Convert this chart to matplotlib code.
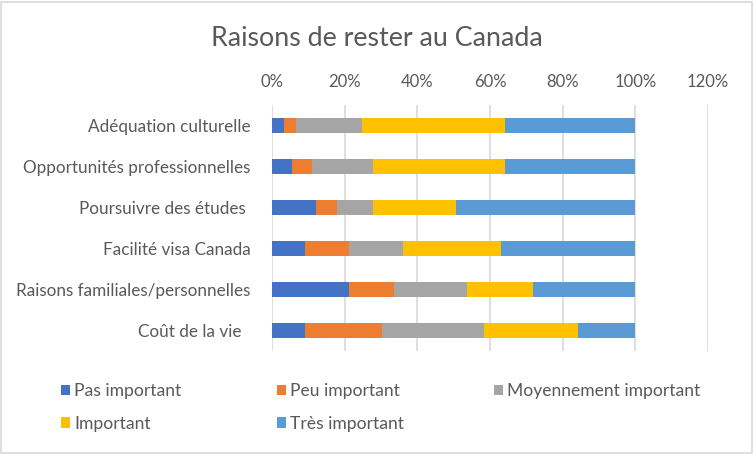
import matplotlib
matplotlib.use("Agg")
import matplotlib.pyplot as plt
from matplotlib.patches import Rectangle, Patch
import numpy as np

plt.rcParams['font.family'] = ['Lato', 'DejaVu Sans']

categories = ["Adéquation culturelle", "Opportunités professionnelles", "Poursuivre des études ",
              "Facilité visa Canada", "Raisons familiales/personnelles", "Coût de la vie  "]
series_names = ["Pas important", "Peu important", "Moyennement important", "Important", "Très important"]
pas_important = [3.2, 5.4, 12.0, 9.0, 21.3, 9.0]
peu_important = [3.5, 5.5, 5.8, 12.3, 12.3, 21.2]
moyennement_important = [18.0, 17.0, 10.1, 14.7, 20.1, 28.1]
important = [39.4, 36.2, 22.7, 27.0, 18.2, 25.9]
tres_important = [35.9, 35.9, 49.4, 37.0, 28.1, 15.8]
x_ticks = [0, 20, 40, 60, 80, 100, 120]
x_tick_labels = ["0%", "20%", "40%", "60%", "80%", "100%", "120%"]

colors = ["#4472C4", "#ED7D31", "#A5A5A5", "#FFC000", "#5B9BD5"]
text_color = "#595959"

W, H = 754, 454
fig = plt.figure(figsize=(W / 100, H / 100), dpi=100)
fig.patches.append(Rectangle((1 / W, 1 / H), 1 - 3 / W, 1 - 3 / H, transform=fig.transFigure,
                             fill=False, edgecolor="#d9d9d9", linewidth=1.2))

ax = fig.add_axes([272 / W, 1 - 351 / H, (708 - 272) / W, (351 - 105) / H])
y = np.arange(len(categories))
data = [pas_important, peu_important, moyennement_important, important, tres_important]
left = np.zeros(len(categories))
for vals, col, name in zip(data, colors, series_names):
    vals = np.array(vals)
    ax.barh(y, vals, left=left, height=0.345, color=col, label=name, zorder=3)
    left += vals

ax.set_ylim(len(categories) - 0.5, -0.5)
ax.set_xlim(0, 120)
ax.set_yticks(y)
ax.set_yticklabels(categories, fontsize=12.3, color=text_color)
ax.set_xticks(x_ticks)
ax.set_xticklabels(x_tick_labels, fontsize=12, color=text_color)
ax.xaxis.tick_top()
ax.tick_params(axis='both', length=0)
ax.tick_params(axis='x', pad=10.5)
ax.tick_params(axis='y', pad=15.5)
ax.grid(axis='x', color="#d9d9d9", linewidth=1.2, zorder=0)
for s in ax.spines.values():
    s.set_visible(False)

fig.text(0.5, 1 - 38 / H, "Raisons de rester au Canada", ha='center', va='center',
         fontsize=19.3, color=text_color)

# legend: three columns placed like the reference (row-wise order)
columns = [[0, 3], [1, 4], [2]]
col_x = [61, 277, 494]
for idxs, cx in zip(columns, col_x):
    hs = [Patch(facecolor=colors[i]) for i in idxs]
    ls = [series_names[i] for i in idxs]
    fig.legend(hs, ls, loc='upper left', bbox_to_anchor=(cx / W, 1 - 383 / H),
               frameon=False, borderpad=0, borderaxespad=0,
               fontsize=12.6, labelcolor=text_color, handlelength=0.52, handleheight=0.52,
               handletextpad=0.25, labelspacing=0.95)

fig.savefig("out.png", dpi=100)
